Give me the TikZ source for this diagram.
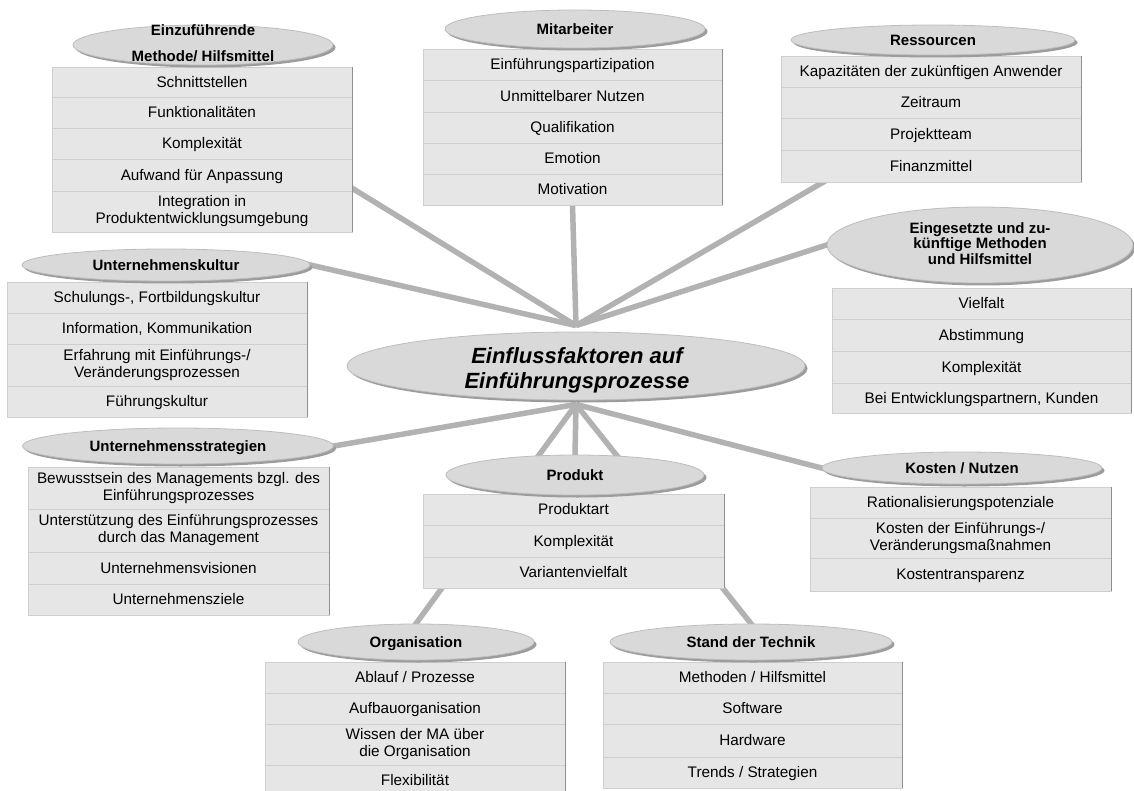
\documentclass[tikz,border=0pt]{standalone}
\usepackage{fontspec}
\setmainfont{Liberation Sans}
\usetikzlibrary{shapes.geometric,shadows,calc,backgrounds}

\definecolor{linkgray}{HTML}{B2B2B2}
\definecolor{ellfill}{HTML}{D9D9D9}
\definecolor{ellrim}{HTML}{BDBDBD}
\definecolor{ellshade}{HTML}{9C9C9C}
\definecolor{cellfill}{HTML}{E6E6E6}
\definecolor{cellrule}{HTML}{CFCFCF}
\definecolor{cellside}{HTML}{8F8F8F}

% invisible strut that gives every text line the same height and depth
\newcommand{\linestrut}{\rule[-3.5pt]{0pt}{17.5pt}}

\tikzset{
  cell/.style={rectangle, fill=cellfill, draw=cellrule, line width=0.8pt,
    inner sep=0pt, align=center, font=\fontsize{15.3}{17}\selectfont,
    execute at begin node=\linestrut, execute at end node=\linestrut},
  celledge/.style={draw=cellside, line width=1.2pt},
  headell/.style={ellipse, fill=ellfill, draw=ellrim, line width=0.8pt, inner sep=0pt,
    drop shadow={shadow xshift=2.5pt, shadow yshift=-2.5pt, fill=ellshade, opacity=1}},
  headtxt/.style={align=center, inner sep=0pt, font=\fontsize{15}{17}\selectfont\bfseries,
    execute at begin node=\linestrut, execute at end node=\linestrut},
  coretxt/.style={align=center, inner sep=0pt, font=\fontsize{22}{25}\selectfont\bfseries\itshape},
  link/.style={draw=linkgray, line width=5.5pt},
}

% one table row: name, centre x, centre y, width, height, text
\newcommand{\cellbox}[6]{%
  \node[cell, minimum width=#4pt, minimum height=#5pt] (#1) at (#2,#3) {#6};
  \draw[celledge] (#1.north east) -- (#1.south east);}
% heading ellipse: name, centre x, centre y, width, height, text
\newcommand{\headnode}[6]{%
  \node[headell, minimum width=#4pt, minimum height=#5pt] (#1) at (#2,#3) {};
  \node[headtxt] (#1t) at (#1) {#6};}

\begin{document}
\begin{tikzpicture}[x=1pt,y=-1pt]
\useasboundingbox (0,0) rectangle (1134,791);
\clip (0,0) rectangle (1134,791);

% ---- tables ----
\cellbox{ma1}{202}{82}{300}{30}{Schnittstellen}
\cellbox{ma2}{202}{112.5}{300}{31}{Funktionalitäten}
\cellbox{ma3}{202}{143.5}{300}{31}{Komplexität}
\cellbox{ma4}{202}{175}{300}{32}{Aufwand für Anpassung}
\cellbox{ma5}{202}{211.5}{300}{41}{Integration in\\Produktentwicklungsumgebung}

\cellbox{mi1}{572.5}{64.5}{299}{31}{Einführungspartizipation}
\cellbox{mi2}{572.5}{96}{299}{32}{Unmittelbarer Nutzen}
\cellbox{mi3}{572.5}{127.5}{299}{31}{Qualifikation}
\cellbox{mi4}{572.5}{158.5}{299}{31}{Emotion}
\cellbox{mi5}{572.5}{189.5}{299}{31}{Motivation}

\cellbox{re1}{931}{71.5}{300}{31}{Kapazitäten der zukünftigen Anwender}
\cellbox{re2}{931}{102.75}{300}{31.5}{Zeitraum}
\cellbox{re3}{931}{134.25}{300}{31.5}{Projektteam}
\cellbox{re4}{931}{166}{300}{32}{Finanzmittel}

\cellbox{uk1}{157}{297.5}{300}{31}{Schulungs-, Fortbildungskultur}
\cellbox{uk2}{157}{328.5}{300}{31}{Information, Kommunikation}
\cellbox{uk3}{157}{365}{300}{42}{Erfahrung mit Einführungs-/\\Veränderungsprozessen}
\cellbox{uk4}{157}{401.5}{300}{31}{Führungskultur}

\cellbox{us1}{178.5}{488}{301}{42}{Bewusstsein des Managements bzgl. des\\Einführungsprozesses}
\cellbox{us2}{178.5}{530.5}{301}{43}{Unterstützung des Einführungsprozesses\\durch das Management}
\cellbox{us3}{178.5}{568}{301}{32}{Unternehmensvisionen}
\cellbox{us4}{178.5}{599.5}{301}{31}{Unternehmensziele}

\cellbox{em1}{981.5}{303.5}{299}{31}{Vielfalt}
\cellbox{em2}{981.5}{335}{299}{32}{Abstimmung}
\cellbox{em3}{981.5}{367}{299}{32}{Komplexität}
\cellbox{em4}{981.5}{398}{299}{30}{Bei Entwicklungspartnern, Kunden}

\cellbox{kn1}{960.5}{502.5}{301}{31}{Rationalisierungspotenziale}
\cellbox{kn2}{960.5}{538}{301}{40}{Kosten der Einführungs-/\\Veränderungsmaßnahmen}
\cellbox{kn3}{960.5}{574.5}{301}{33}{Kostentransparenz}

\cellbox{pr1}{573.5}{509.5}{301}{31}{Produktart}
\cellbox{pr2}{573.5}{541}{301}{32}{Komplexität}
\cellbox{pr3}{573.5}{572.5}{301}{31}{Variantenvielfalt}

\cellbox{or1}{415}{677.5}{300}{31}{Ablauf / Prozesse}
\cellbox{or2}{415}{708.5}{300}{31}{Aufbauorganisation}
\cellbox{or3}{415}{744.5}{300}{41}{Wissen der MA über\\die Organisation}
\cellbox{or4}{415}{780.5}{300}{31}{Flexibilität}

\cellbox{st1}{752.5}{677.5}{299}{31}{Methoden / Hilfsmittel}
\cellbox{st2}{752.5}{708.5}{299}{31}{Software}
\cellbox{st3}{752.5}{740.5}{299}{33}{Hardware}
\cellbox{st4}{752.5}{772.5}{299}{31}{Trends / Strategien}

% ---- headings ----
\headnode{hma}{203}{45}{260}{40}{Einzuführende\\[9pt]Methode/ Hilfsmittel}
\headnode{hmi}{575}{29}{260}{38}{Mitarbeiter}
\headnode{hre}{933}{40}{284}{30}{Ressourcen}
\headnode{huk}{166}{265}{288}{32}{Unternehmenskultur}
\headnode{hus}{178}{446}{311}{36}{Unternehmensstrategien}
\headnode{hem}{980}{245}{306}{76}{Eingesetzte und zu-\\[-2pt]künftige Methoden\\[-1pt]und Hilfsmittel}
\headnode{hkn}{962}{468}{280}{32}{Kosten / Nutzen}
\headnode{hpr}{575}{475}{258}{40}{Produkt}
\headnode{hor}{416}{642}{236}{36}{Organisation}
\headnode{hst}{751}{642}{282}{36}{Stand der Technik}

% ---- central topic ----
\node[headell, minimum width=458pt, minimum height=68pt] (core) at (576,366) {};
\node[coretxt] (coret) at (577,370) {Einflussfaktoren auf\\Einführungsprozesse};

\coordinate (hubtop) at ($(core.north)+(0,-6)$);
\coordinate (hubbot) at ($(core.south)+(0,4)$);

% ---- connectors, behind everything ----
\begin{scope}[on background layer]
  \draw[link, shorten >=-14pt] (hubtop) -- ($(ma4.south east)+(0,-3)$);
  \draw[link, shorten >=-10pt] (hubtop) -- (mi5.south);
  \draw[link, shorten >=-12pt] (hubtop) -- ($(re4.south west)!0.14!(re4.south east)$);
  \draw[link, shorten >=-10pt] (hubtop) -- (huk.east);
  \draw[link, shorten >=-10pt] (hubtop) -- (hem.west);
  \draw[link, shorten >=-10pt] (hubbot) -- (hus.east);
  \draw[link, shorten >=-8pt] (hubbot) -- (hor.north);
  \draw[link, shorten >=-8pt] (hubbot) -- (hpr.north);
  \draw[link, shorten >=-8pt] (hubbot) -- (hst.north);
  \draw[link, shorten >=-10pt] (hubbot) -- (hkn.west);
\end{scope}
\end{tikzpicture}
\end{document}
